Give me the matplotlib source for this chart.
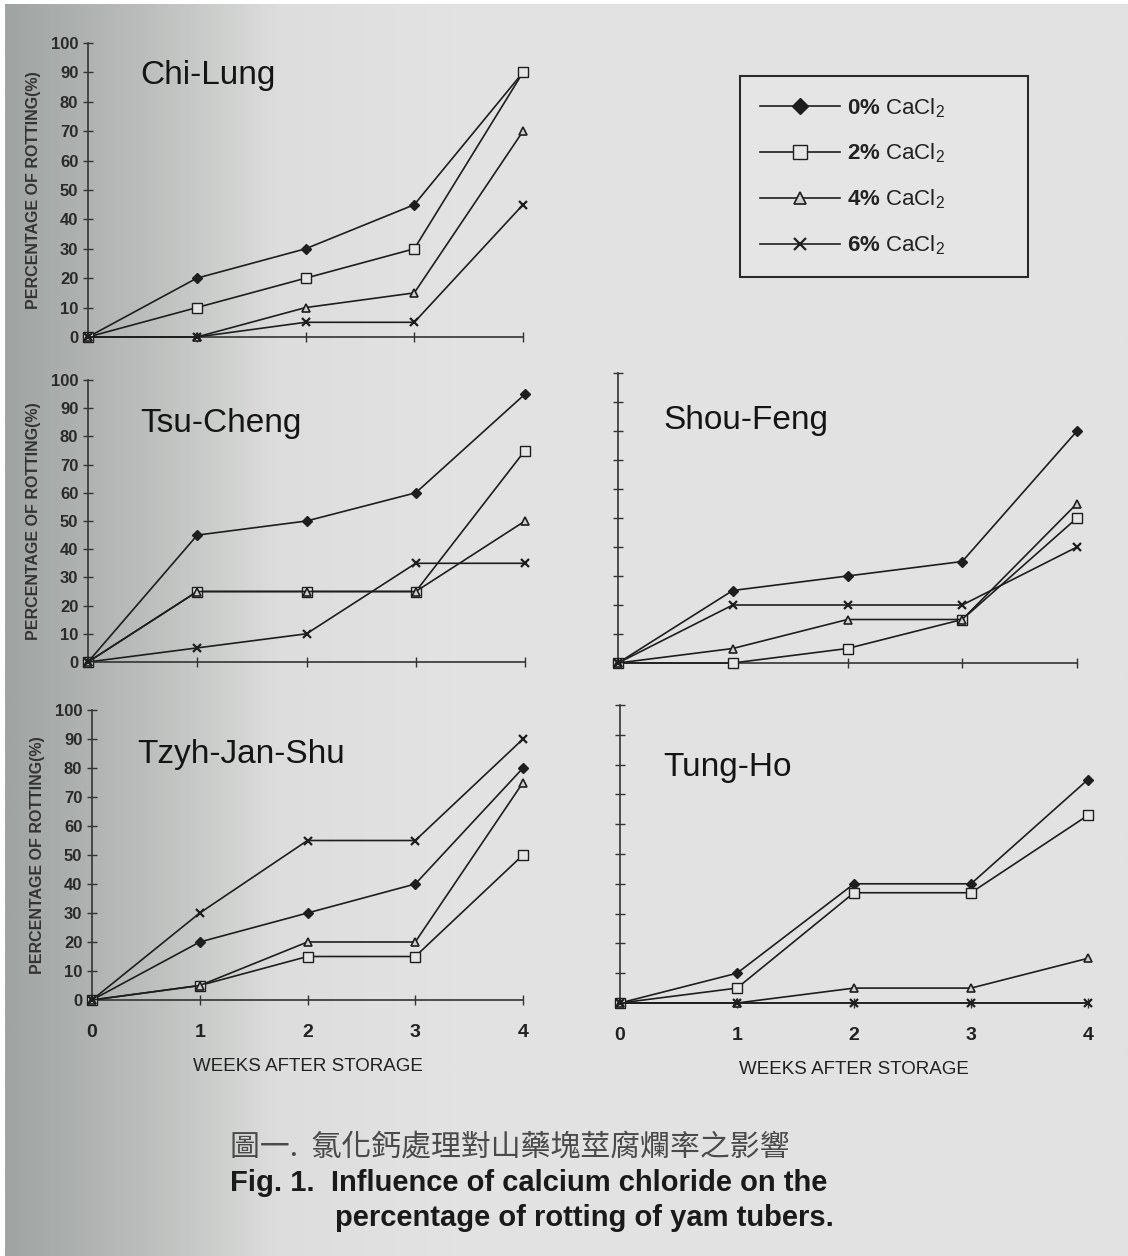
import matplotlib
matplotlib.use('Agg')
import matplotlib.pyplot as plt
import numpy as np
from matplotlib.colors import LinearSegmentedColormap

plt.rcParams['font.family'] = ['Liberation Sans', 'DejaVu Sans']
plt.rcParams['mathtext.fontset'] = 'custom'
plt.rcParams['mathtext.rm'] = 'Liberation Sans'
plt.rcParams['mathtext.bf'] = 'Liberation Sans:bold'

weeks = [0, 1, 2, 3, 4]
levels = [0, 2, 4, 6]  # % CaCl2

# percentage of rotting, one list per CaCl2 level
chi_lung = [[0, 20, 30, 45, 90],
            [0, 10, 20, 30, 90],
            [0, 0, 10, 15, 70],
            [0, 0, 5, 5, 45]]
tsu_cheng = [[0, 45, 50, 60, 95],
             [0, 25, 25, 25, 75],
             [0, 25, 25, 25, 50],
             [0, 5, 10, 35, 35]]
shou_feng = [[0, 25, 30, 35, 80],
             [0, 0, 5, 15, 50],
             [0, 5, 15, 15, 55],
             [0, 20, 20, 20, 40]]
tzyh_jan_shu = [[0, 20, 30, 40, 80],
                [0, 5, 15, 15, 50],
                [0, 5, 20, 20, 75],
                [0, 30, 55, 55, 90]]
tung_ho = [[0, 10, 40, 40, 75],
           [0, 5, 37, 37, 63],
           [0, 0, 5, 5, 15],
           [0, 0, 0, 0, 0]]

W, H = 1128, 1256
fig = plt.figure(figsize=(W/100, H/100), dpi=100, facecolor='white')

# scanned paper background with the dark shadow on the left
bg = fig.add_axes([5/W, 0, 1-5/W, 1-4/H], zorder=-10)
cmap = LinearSegmentedColormap.from_list('paper', [(0, '#a0a4a2'), (0.12, '#babdbb'),
                                                   (0.24, '#dcdddc'), (0.4, '#e3e3e3'),
                                                   (1, '#e2e2e2')])
grad = np.linspace(0, 1, 400).reshape(1, -1)
bg.imshow(grad, aspect='auto', cmap=cmap, extent=[0, 1, 0, 1])
bg.axis('off')

ink = '#1e1e1e'
styles = [dict(marker='D', ms=5.5, mfc=ink, mec=ink),
          dict(marker='s', ms=7, mfc='#e6e6e6', mec=ink, mew=1.0),
          dict(marker='^', ms=6, mfc='#d0d0d0', mec=ink, mew=1.2),
          dict(marker='x', ms=6, mfc=ink, mec=ink, mew=1.6)]


def px_box(x0, x4, y0, y100):
    return [x0/W, 1-y0/H, (x4-x0)/W, (y0-y100)/H]


panels = [
    ('Chi-Lung', chi_lung, px_box(88, 523, 337, 43), True, False, (0.12, 0.89)),
    ('Tsu-Cheng', tsu_cheng, px_box(88, 525, 662, 380), True, False, (0.12, 0.845)),
    ('Shou-Feng', shou_feng, px_box(618, 1077, 663, 373), False, False, (0.098, 0.835)),
    ('Tzyh-Jan-Shu', tzyh_jan_shu, px_box(92, 523, 1000, 710), True, True, (0.104, 0.845)),
    ('Tung-Ho', tung_ho, px_box(620, 1088, 1003, 705), False, True, (0.092, 0.79)),
]

axes = []
for name, series, box, ylab, xlab, tpos in panels:
    ax = fig.add_axes(box)
    ax.patch.set_alpha(0)
    for vals, st in zip(series, styles):
        ax.plot(weeks, vals, color=ink, lw=1.2, clip_on=False, zorder=3, **st)
    ax.set_xlim(0, 4)
    ax.set_ylim(0, 100)
    for s in ['top', 'right']:
        ax.spines[s].set_visible(False)
    for s in ['left', 'bottom']:
        ax.spines[s].set_color('#333333')
        ax.spines[s].set_linewidth(1.2)
    ax.set_yticks(range(0, 101, 10))
    ax.set_xticks(weeks)
    ax.tick_params(axis='both', direction='inout', length=7, width=1.0, color='#333333')
    if ylab:
        ax.set_yticklabels([str(v) for v in range(0, 101, 10)], fontsize=12,
                           fontweight='bold', color='#2a2a2a')
        ax.set_ylabel('PERCENTAGE OF ROTTING(%)', fontsize=11.5, fontweight='bold',
                      color='#333333', labelpad=7)
    else:
        ax.set_yticklabels([])
    if xlab:
        ax.set_xticklabels([str(w) for w in weeks], fontsize=14, fontweight='bold',
                           color='#222222')
        ax.tick_params(axis='x', pad=14)
        ax.set_xlabel('WEEKS AFTER STORAGE', fontsize=13.5, color='#222222', labelpad=12)
    else:
        ax.set_xticklabels([])
    ax.text(tpos[0], tpos[1], name, transform=ax.transAxes, fontsize=24,
            ha='left', va='center', color='#151515')
    axes.append(ax)

handles = axes[0].get_lines()
leg_labels = [r'$\mathbf{%d\%%}$ CaCl$_2$' % p for p in levels]
leg = fig.legend(handles, leg_labels, loc='upper left', mode='expand',
                 bbox_to_anchor=(740/W, 1-272/H, 288/W, 196/H), borderaxespad=0,
                 fontsize=16, markerscale=1.4, handlelength=3.6, labelspacing=1.0,
                 borderpad=0.9, handletextpad=0.3, fancybox=False, framealpha=1,
                 edgecolor='#2a2a2a', facecolor='#e4e5e4')
leg.get_frame().set_linewidth(1.5)
for t in leg.get_texts():
    t.set_color('#222222')

fig.text(230/W, 1-1148/H, '圖一.  氯化鈣處理對山藥塊莖腐爛率之影響',
         family=['Noto Sans CJK TC', 'DejaVu Sans'], fontsize=21.5, color='#4a4a4a',
         va='center', ha='left')
fig.text(230/W, 1-1183/H, 'Fig. 1.  Influence of calcium chloride on the',
         fontsize=21, fontweight='bold', color='#1a1a1a', va='center', ha='left')
fig.text(335/W, 1-1218/H, 'percentage of rotting of yam tubers.',
         fontsize=21, fontweight='bold', color='#1a1a1a', va='center', ha='left')

fig.savefig('out.png', dpi=100, facecolor=fig.get_facecolor())
